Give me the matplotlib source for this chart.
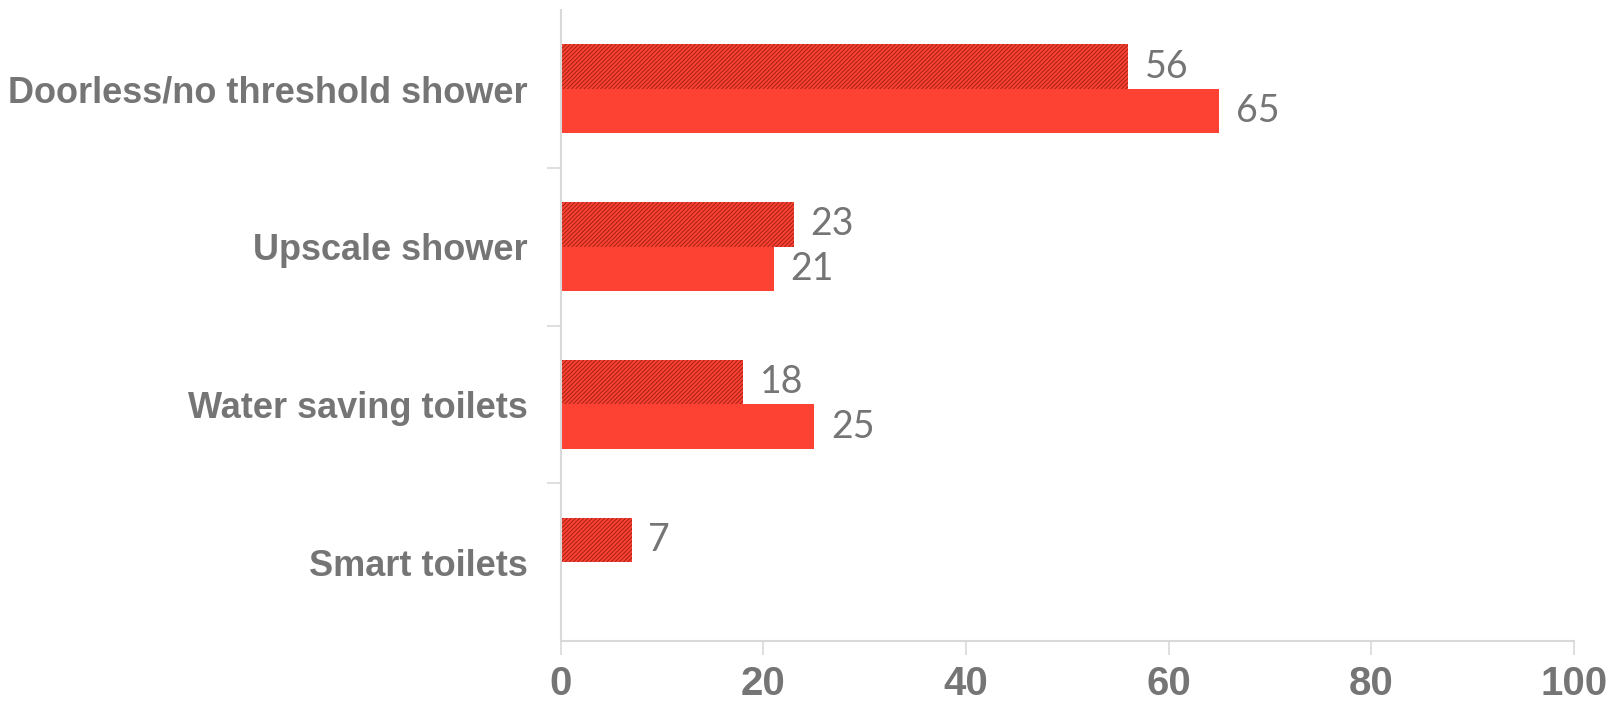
import numpy as np
import matplotlib.pyplot as plt
from matplotlib.ticker import FixedLocator

categories = ["Doorless/no threshold shower", "Upscale shower",
              "Water saving toilets", "Smart toilets"]
series_a = [56, 23, 18, 7]        # hatched dark bars
series_b = [65, 21, 25, np.nan]   # solid red bars
x_ticks = [0, 20, 40, 60, 80, 100]

grey = "#757575"
axis_col = "#d9d9d9"
red = "#fd4233"
dark = "#a22216"

plt.rcParams["hatch.linewidth"] = 1.4
plt.rcParams["hatch.color"] = red

fig = plt.figure(figsize=(16.21, 7.01), dpi=100)
ax = fig.add_axes([0.346, 0.0856, 0.625, 0.9])

y = np.arange(len(categories))[::-1].astype(float)
h = 0.282

ax.barh(y + h / 2, series_a, h, color=dark, hatch="////////", edgecolor=red, linewidth=0)
vals_b = np.nan_to_num(series_b)
ax.barh(y - h / 2, vals_b, h, color=red, linewidth=0)

lbl_kw = dict(textcoords="offset points", ha="left", va="center", fontsize=27,
              color=grey, family="Lato")
for yi, v in zip(y, series_a):
    ax.annotate(f"{v}", xy=(v, yi + h / 2), xytext=(12, 0), **lbl_kw)
for yi, v in zip(y, series_b):
    if np.isnan(v):
        continue
    ax.annotate(f"{v:g}", xy=(v, yi - h / 2), xytext=(12, 0), **lbl_kw)

ax.set_xlim(0, 100)
ax.set_ylim(-0.5, 3.5)

ax.set_xticks(x_ticks)
ax.set_xticklabels([str(t) for t in x_ticks], fontsize=29, fontweight="bold",
                   color=grey, family="Liberation Sans")
ax.set_yticks(y)
ax.set_yticklabels(categories, fontsize=26, fontweight="bold", color=grey,
                   family="Liberation Sans")
ax.tick_params(axis="y", which="major", length=0, pad=24)
ax.yaxis.set_minor_locator(FixedLocator([0.5, 1.5, 2.5]))
ax.tick_params(axis="y", which="minor", length=10, color=axis_col, width=1.2)
ax.tick_params(axis="x", length=10, color=axis_col, width=1.2, pad=7)

for s in ["top", "right"]:
    ax.spines[s].set_visible(False)
for s in ["left", "bottom"]:
    ax.spines[s].set_color(axis_col)
    ax.spines[s].set_linewidth(1.5)

fig.savefig("out.png", dpi=100)
